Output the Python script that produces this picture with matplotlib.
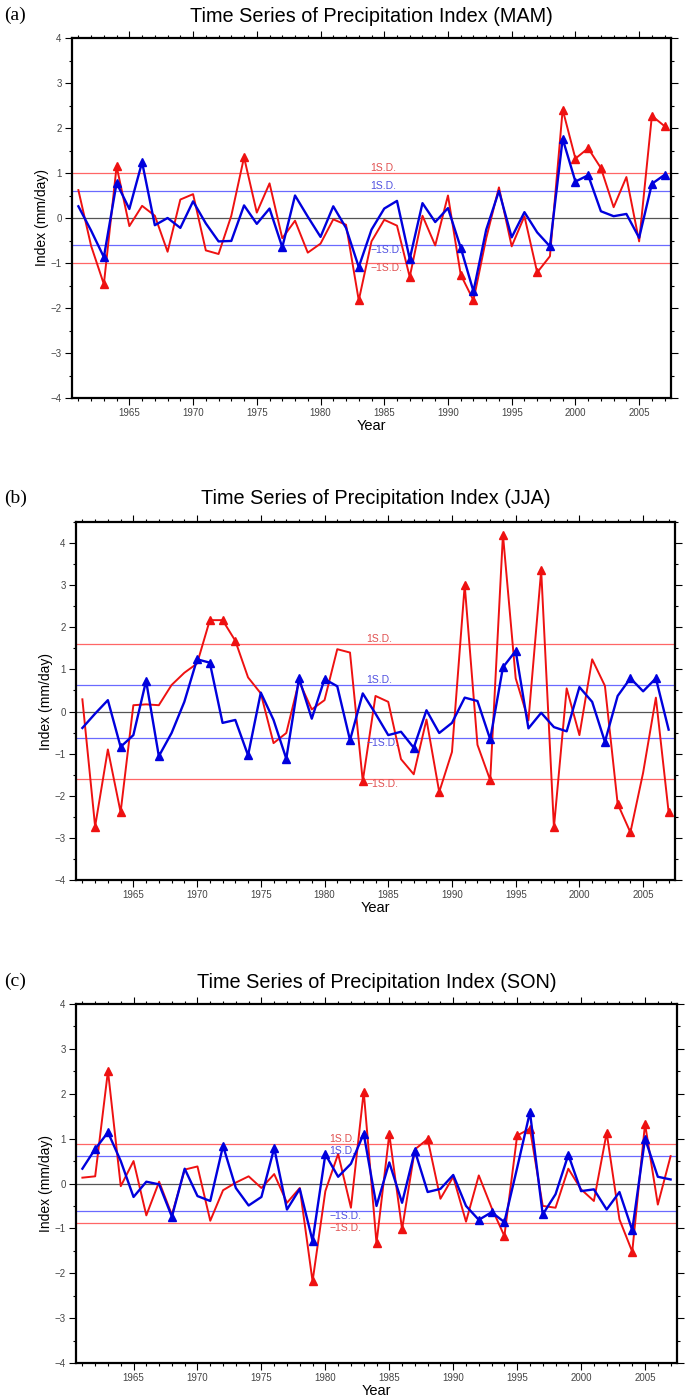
import numpy as np
import matplotlib
matplotlib.use('Agg')
import matplotlib.pyplot as plt
from matplotlib.ticker import MultipleLocator

years = np.arange(1961, 2008)

# MAM
mamRed = [0.62, -0.62, -1.47, 1.15, -0.18, 0.27, 0.05, -0.75, 0.41, 0.53,
          -0.72, -0.80, 0.05, 1.35, 0.12, 0.77, -0.45, -0.06, -0.77, -0.57,
          -0.03, -0.15, -1.83, -0.52, -0.04, -0.17, -1.31, 0.05, -0.61, 0.50,
          -1.26, -1.83, -0.45, 0.68, -0.63, 0.04, -1.21, -0.85, 2.41, 1.32,
          1.55, 1.11, 0.24, 0.91, -0.52, 2.27, 2.04]
mamBlue = [0.26, -0.28, -0.87, 0.78, 0.20, 1.24, -0.16, 0.00, -0.22, 0.37,
           -0.12, -0.52, -0.51, 0.28, -0.13, 0.21, -0.65, 0.50, 0.03, -0.42,
           0.26, -0.22, -1.09, -0.26, 0.21, 0.38, -0.91, 0.33, -0.09, 0.22,
           -0.66, -1.63, -0.26, 0.60, -0.43, 0.13, -0.32, -0.63, 1.76, 0.81,
           0.95, 0.15, 0.04, 0.09, -0.44, 0.76, 0.96]
mamSD = [1.00, 0.61]

# JJA
jjaRed = [0.29, -2.73, -0.90, -2.39, 0.15, 0.17, 0.15, 0.63, 0.92, 1.14,
          2.17, 2.17, 1.68, 0.81, 0.43, -0.75, -0.51, 0.72, 0.05, 0.27,
          1.48, 1.40, -1.65, 0.37, 0.23, -1.13, -1.49, -0.19, -1.91, -0.96,
          3.00, -0.79, -1.63, 4.20, 0.79, -0.21, 3.35, -2.75, 0.55, -0.56,
          1.24, 0.61, -2.19, -2.87, -1.45, 0.33, -2.39]
jjaBlue = [-0.39, -0.05, 0.27, -0.84, -0.56, 0.73, -1.06, -0.51, 0.23, 1.24,
           1.16, -0.27, -0.20, -1.04, 0.45, -0.20, -1.12, 0.79, -0.17, 0.77,
           0.60, -0.68, 0.43, -0.05, -0.56, -0.48, -0.86, 0.03, -0.51, -0.27,
           0.33, 0.25, -0.66, 1.05, 1.44, -0.40, -0.03, -0.37, -0.47, 0.58,
           0.23, -0.72, 0.37, 0.79, 0.48, 0.79, -0.43]
jjaSD = [1.60, 0.63]

# SON
sonRed = [0.13, 0.16, 2.51, -0.06, 0.50, -0.71, 0.04, -0.70, 0.31, 0.38,
          -0.83, -0.15, 0.02, 0.16, -0.10, 0.21, -0.43, -0.10, -2.18, -0.17,
          0.66, -0.54, 2.05, -1.33, 1.10, -1.02, 0.76, 0.99, -0.34, 0.15,
          -0.85, 0.18, -0.54, -1.17, 1.07, 1.22, -0.50, -0.54, 0.33, -0.13,
          -0.39, 1.13, -0.80, -1.52, 1.33, -0.47, 0.61]
sonBlue = [0.33, 0.77, 1.14, 0.50, -0.30, 0.04, -0.02, -0.74, 0.33, -0.28,
           -0.39, 0.84, -0.10, -0.49, -0.30, 0.79, -0.58, -0.12, -1.28, 0.65,
           0.15, 0.44, 1.11, -0.50, 0.47, -0.43, 0.73, -0.19, -0.12, 0.19,
           -0.50, -0.81, -0.64, -0.86, 0.35, 1.59, -0.69, -0.24, 0.64, -0.17,
           -0.13, -0.58, -0.19, -1.04, 1.00, 0.15, 0.09]
sonSD = [0.88, 0.62]

seasons = ['MAM', 'JJA', 'SON']
tags = ['(a)', '(b)', '(c)']

W, H = 685, 1399
# axes boxes in pixels: left, top, right, bottom
boxes = [(72, 38, 671, 398), (76, 522, 675, 880), (76, 1004, 677, 1363)]
titleY = [16, 499, 982]
ylims = [(-4, 4), (-4, 4.5), (-4, 4)]
sdLabelX = [1983.9, 1983.3, 1980.3]

RED = '#ee1111'
BLUE = '#0000dd'
sansFont = ['Liberation Sans', 'DejaVu Sans']


def plotPanel(ax, red, blue, sd, ylim, labx):
    red = np.array(red)
    blue = np.array(blue)
    ax.axhline(0, color='#555555', lw=0.9, zorder=1)
    ax.axhline(sd[0], color='#ff6666', lw=0.9, zorder=1)
    ax.axhline(-sd[0], color='#ff6666', lw=0.9, zorder=1)
    ax.axhline(sd[1], color='#6a6aff', lw=0.9, zorder=1)
    ax.axhline(-sd[1], color='#6a6aff', lw=0.9, zorder=1)

    ax.plot(years, red, color=RED, lw=1.4, zorder=3)
    m = np.abs(red) > sd[0]
    ax.plot(years[m], red[m], '^', color=RED, ms=6.3, zorder=4)
    ax.plot(years, blue, color=BLUE, lw=1.7, zorder=5)
    m = np.abs(blue) > sd[1]
    ax.plot(years[m], blue[m], '^', color=BLUE, ms=6.3, zorder=6)

    ax.text(labx, sd[0], '1S.D.', color='#e05050', fontsize=7.5, va='bottom', family=sansFont)
    ax.text(labx, sd[1], '1S.D.', color='#5050e0', fontsize=7.5, va='bottom', family=sansFont)
    ax.text(labx, -sd[1], '\u22121S.D.', color='#5050e0', fontsize=7.5, va='top', family=sansFont)
    ax.text(labx, -sd[0], '\u22121S.D.', color='#e05050', fontsize=7.5, va='top', family=sansFont)

    ax.set_xlim(1960.5, 2007.5)
    ax.set_ylim(*ylim)
    ax.xaxis.set_major_locator(MultipleLocator(5))
    ax.xaxis.set_minor_locator(MultipleLocator(1))
    ax.yaxis.set_major_locator(MultipleLocator(1))
    ax.yaxis.set_minor_locator(MultipleLocator(0.5))
    ax.set_yticks(np.arange(-4, 5, 1))
    ax.tick_params(which='both', direction='out', top=True, right=True,
                   labelsize=7, labelcolor='#444444', width=0.8)
    ax.tick_params(which='major', length=5, pad=2.5)
    ax.tick_params(which='minor', length=2.5)
    for lab in ax.get_xticklabels() + ax.get_yticklabels():
        lab.set_family(sansFont)
    for s in ax.spines.values():
        s.set_linewidth(1.6)
    ax.set_ylabel('Index (mm/day)', fontsize=10, family=sansFont)
    ax.yaxis.set_label_coords(-0.038, 0.5)
    ax.set_xlabel('Year', fontsize=10.5, family=sansFont)
    ax.xaxis.set_label_coords(0.5, -0.058)


fig = plt.figure(figsize=(W / 100, H / 100), dpi=100)
allRed = [mamRed, jjaRed, sonRed]
allBlue = [mamBlue, jjaBlue, sonBlue]
allSD = [mamSD, jjaSD, sonSD]
for i in range(3):
    l, t, r, b = boxes[i]
    ax = fig.add_axes([l / W, 1 - b / H, (r - l) / W, (b - t) / H])
    plotPanel(ax, allRed[i], allBlue[i], allSD[i], ylims[i], sdLabelX[i])
    fig.text((l + r) / 2 / W, 1 - titleY[i] / H,
             'Time Series of Precipitation Index (' + seasons[i] + ')',
             ha='center', va='center', fontsize=14.3, family=sansFont)
    fig.text(4 / W, 1 - (titleY[i] - 1) / H, tags[i], ha='left', va='center',
             fontsize=14, family=['Liberation Serif', 'DejaVu Serif'])

fig.savefig('out.png', dpi=100)
